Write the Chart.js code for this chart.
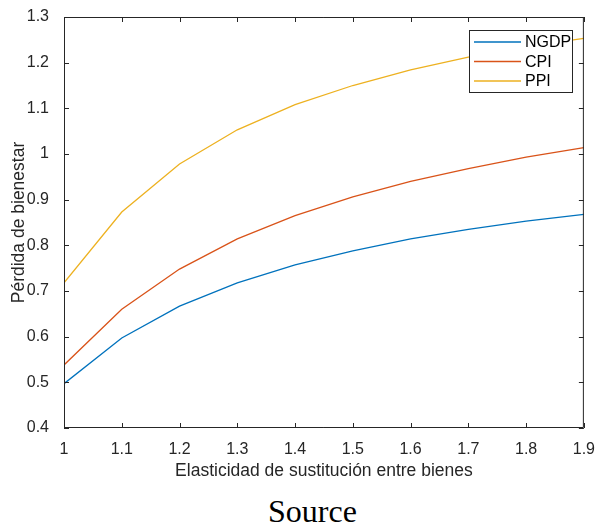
<!DOCTYPE html>
<html>
<head>
<meta charset="utf-8">
<script src="https://cdn.jsdelivr.net/npm/chart.js@4"></script>
<style>
  body { margin: 0; background: #fff; }
  #wrap { width: 599px; height: 490px; position: relative; }
  #source {
    width: 599px; padding-left: 26px; box-sizing: border-box; text-align: center;
    font-family: "Liberation Serif", serif; font-size: 32px; color: #000;
    position: absolute; top: 493px; left: 0;
  }
</style>
</head>
<body>
<div id="wrap"><canvas id="welfare" width="599" height="490"></canvas></div>
<div id="source">Source</div>
<script>
// elasticity of substitution
const elasticities = [1, 1.1, 1.2, 1.3, 1.4, 1.5, 1.6, 1.7, 1.8, 1.9];
const ngdp = [0.497, 0.597, 0.667, 0.718, 0.757, 0.788, 0.814, 0.835, 0.853, 0.868];
const cpi = [0.538, 0.660, 0.748, 0.814, 0.865, 0.906, 0.940, 0.968, 0.993, 1.014];
const ppi = [0.718, 0.873, 0.978, 1.053, 1.108, 1.150, 1.184, 1.212, 1.235, 1.253];
const seriesNames = ['NGDP', 'CPI', 'PPI'];
const seriesColors = ['#0072BD', '#D95319', '#EDB120'];

const axisColor = '#262626';
const sans = '"Liberation Sans", Arial, sans-serif';

function pts(vals) {
    return vals.map((v, i) => ({ x: elasticities[i], y: v }));
}

// box + inward ticks like matlab
const matlabBox = {
    id: 'matlabBox',
    afterDatasetsDraw(chart) {
        const { ctx, chartArea: a, scales } = chart;
        ctx.save();
        ctx.strokeStyle = axisColor;
        ctx.lineWidth = 1;
        ctx.beginPath();
        ctx.rect(a.left + 0.5, a.top + 0.5, a.right - a.left - 1, a.bottom - a.top - 1);
        const len = 5;
        scales.x.ticks.forEach((t, i) => {
            const px = Math.round(scales.x.getPixelForTick(i)) + 0.5;
            ctx.moveTo(px, a.bottom); ctx.lineTo(px, a.bottom - len);
            ctx.moveTo(px, a.top); ctx.lineTo(px, a.top + len);
        });
        scales.y.ticks.forEach((t, i) => {
            const py = Math.round(scales.y.getPixelForTick(i)) + 0.5;
            ctx.moveTo(a.left, py); ctx.lineTo(a.left + len, py);
            ctx.moveTo(a.right, py); ctx.lineTo(a.right - len, py);
        });
        ctx.stroke();

        // legend box
        const lx = 469, ly = 30, lw = 103, lh = 62;
        ctx.fillStyle = '#fff';
        ctx.fillRect(lx, ly, lw, lh);
        ctx.strokeStyle = '#262626';
        ctx.strokeRect(lx + 0.5, ly + 0.5, lw, lh);
        ctx.font = '16px ' + sans;
        ctx.textBaseline = 'middle';
        chart.data.datasets.forEach((ds, i) => {
            const y = ly + 12 + i * 19.5;
            ctx.strokeStyle = ds.borderColor;
            ctx.lineWidth = 1.3;
            ctx.beginPath();
            ctx.moveTo(lx + 5, y); ctx.lineTo(lx + 52, y);
            ctx.stroke();
            ctx.fillStyle = '#000';
            ctx.fillText(ds.label, lx + 56, y + 1);
        });
        ctx.restore();
    }
};

const ctx = document.getElementById('welfare');
new Chart(ctx, {
    type: 'line',
    data: {
        datasets: [ngdp, cpi, ppi].map((vals, i) => ({
            label: seriesNames[i],
            data: pts(vals),
            borderColor: seriesColors[i],
            backgroundColor: seriesColors[i],
            borderWidth: 1.3,
            pointRadius: 0,
            tension: 0
        }))
    },
    options: {
        responsive: false,
        animation: false,
        layout: { padding: { left: 0, right: 8, top: 17, bottom: 0 } },
        plugins: {
            legend: { display: false },
            tooltip: { enabled: false }
        },
        scales: {
            x: {
                type: 'linear',
                min: 1,
                max: 1.9,
                grid: { display: false },
                border: { display: false },
                ticks: {
                    stepSize: 0.1,
                    padding: 4,
                    color: axisColor,
                    font: { family: sans, size: 16 },
                    maxRotation: 0,
                    callback: v => String(Number(v.toFixed(1)))
                },
                title: {
                    display: true,
                    text: 'Elasticidad de sustitución entre bienes',
                    color: axisColor,
                    padding: { top: 4, bottom: 8 },
                    font: { family: sans, size: 17.5 }
                },
                afterFit: s => { s.height = 62; }
            },
            y: {
                min: 0.4,
                max: 1.3,
                grid: { display: false },
                border: { display: false },
                ticks: {
                    stepSize: 0.1,
                    padding: 7,
                    color: axisColor,
                    font: { family: sans, size: 16 },
                    callback: v => String(Number(v.toFixed(1)))
                },
                title: {
                    display: true,
                    text: 'Pérdida de bienestar',
                    color: axisColor,
                    padding: { top: 9, bottom: 9 },
                    font: { family: sans, size: 17.5 }
                },
                afterFit: s => { s.width = 64; }
            }
        }
    },
    plugins: [matlabBox]
});
</script>
</body>
</html>
